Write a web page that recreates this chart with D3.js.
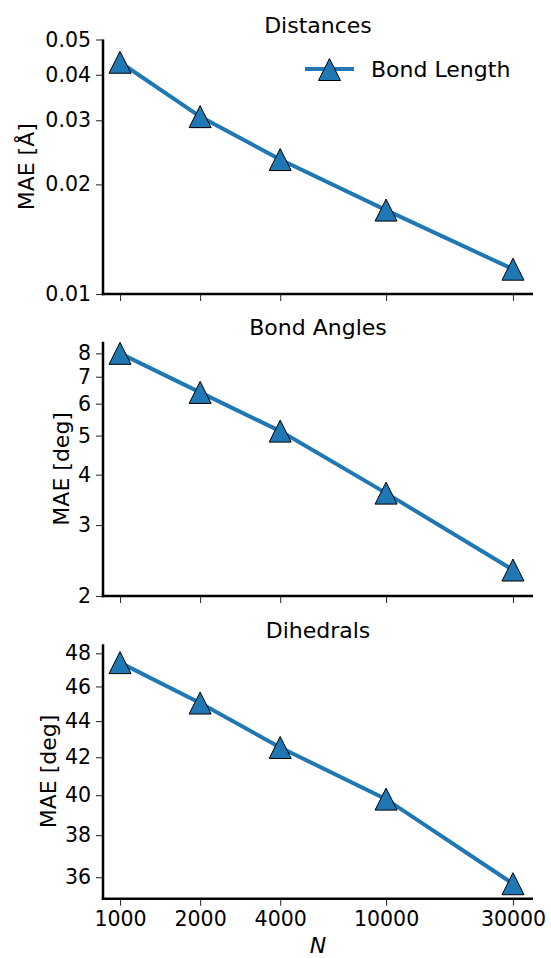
<!DOCTYPE html>
<html>
<head>
<meta charset="utf-8">
<script src="https://cdn.jsdelivr.net/npm/d3@7"></script>
<style>
  body { margin: 0; background: #fff; }
  svg { display: block; font-family: "DejaVu Sans", sans-serif; }
</style>
</head>
<body>
<div id="chart"></div>
<script>
const nValues = [1000, 2000, 4000, 10000, 30000];
const xTicks = [1000, 2000, 4000, 10000, 30000];

const bondLength = [0.0433, 0.0307, 0.0234, 0.0170, 0.0117];
const bondAngle = [8.0, 6.40, 5.13, 3.60, 2.32];
const dihedral = [47.43, 45.03, 42.53, 39.80, 35.70];

const distTicks = [0.01, 0.02, 0.03, 0.04, 0.05];
const angleTicks = [2, 3, 4, 5, 6, 7, 8];
const dihedralTicks = [36, 38, 40, 42, 44, 46, 48];

const titles = ["Distances", "Bond Angles", "Dihedrals"];
const yLabels = ["MAE [Å]", "MAE [deg]", "MAE [deg]"];

const width = 551, height = 958;
const left = 103, right = 533;
const blue = "#1f77b4";

const panels = [
    { title: titles[0], ylab: yLabels[0], values: bondLength, ticks: distTicks,
      domain: [0.01, 0.05], top: 39.5, bottom: 294, labX: 33.5, fmt: d => d.toFixed(2) },
    { title: titles[1], ylab: yLabels[1], values: bondAngle, ticks: angleTicks,
      domain: [2, 8.55], top: 341.7, bottom: 596, labX: 68.5, fmt: d => d },
    { title: titles[2], ylab: yLabels[2], values: dihedral, ticks: dihedralTicks,
      domain: [35.02, 48.56], top: 644.3, bottom: 898.7, labX: 55.5, fmt: d => d }
];

const svg = d3.select("#chart")
    .append("svg")
    .attr("width", width)
    .attr("height", height);

const x = d3.scaleLog().domain([863, 35670]).range([left, right]);

// matplotlib-style "^" marker: isoceles, centred on its bounding box
const tri = "M0,-11L11,11L-11,11Z";

panels.forEach((p, pi) => {
    const y = d3.scaleLog().domain(p.domain).range([p.bottom, p.top]);
    const g = svg.append("g");

    // y axis
    const yAxis = d3.axisLeft(y)
        .tickValues(p.ticks)
        .tickFormat(p.fmt)
        .tickSize(7)
        .tickPadding(5);
    const ya = g.append("g")
        .attr("transform", `translate(${left},0)`)
        .call(yAxis);
    ya.select(".domain").remove();
    ya.selectAll(".tick line").attr("stroke", "#333").attr("stroke-width", 1.1);
    ya.selectAll(".tick text")
        .attr("font-size", "20.5px")
        .attr("fill", "#000")
        .attr("font-family", "DejaVu Sans");

    // x axis
    const xAxis = d3.axisBottom(x)
        .tickValues(xTicks)
        .tickFormat(pi === 2 ? d3.format("d") : "")
        .tickSize(7)
        .tickPadding(6);
    const xa = g.append("g")
        .attr("transform", `translate(0,${p.bottom})`)
        .call(xAxis);
    xa.select(".domain").remove();
    xa.selectAll(".tick line").attr("stroke", "#333").attr("stroke-width", 1.1);
    xa.selectAll(".tick text")
        .attr("font-size", "20.5px")
        .attr("fill", "#000")
        .attr("font-family", "DejaVu Sans");

    // spines
    g.append("line")
        .attr("x1", left).attr("x2", left)
        .attr("y1", p.top).attr("y2", p.bottom + 1.2)
        .attr("stroke", "#000").attr("stroke-width", 2.5);
    g.append("line")
        .attr("x1", left - 1.2).attr("x2", right)
        .attr("y1", p.bottom).attr("y2", p.bottom)
        .attr("stroke", "#000").attr("stroke-width", 2.5);

    // title
    g.append("text")
        .attr("x", (left + right) / 2)
        .attr("y", p.top - 6.5)
        .attr("text-anchor", "middle")
        .attr("font-size", "22px")
        .text(p.title);

    // y label
    g.append("text")
        .attr("transform", `translate(${p.labX},${(p.top + p.bottom) / 2}) rotate(-90)`)
        .attr("text-anchor", "middle")
        .attr("font-size", "22px")
        .text(p.ylab);

    // line + markers
    const pts = nValues.map((n, i) => [n, p.values[i]]);
    g.append("path")
        .datum(pts)
        .attr("fill", "none")
        .attr("stroke", blue)
        .attr("stroke-width", 4)
        .attr("d", d3.line().x(d => x(d[0])).y(d => y(d[1])));

    g.selectAll("path.marker")
        .data(pts)
        .enter()
        .append("path")
        .attr("class", "marker")
        .attr("d", tri)
        .attr("transform", d => `translate(${x(d[0])},${y(d[1])})`)
        .attr("fill", blue)
        .attr("stroke", "#000")
        .attr("stroke-width", 1);
});

// x label
svg.append("text")
    .attr("x", (left + right) / 2)
    .attr("y", 953)
    .attr("text-anchor", "middle")
    .attr("font-size", "22px")
    .attr("font-style", "italic")
    .text("N");

// legend
const legend = svg.append("g");
legend.append("line")
    .attr("x1", 305).attr("x2", 354)
    .attr("y1", 69).attr("y2", 69)
    .attr("stroke", blue).attr("stroke-width", 4);
legend.append("path")
    .attr("d", tri)
    .attr("transform", "translate(329.5,69.5)")
    .attr("fill", blue)
    .attr("stroke", "#000")
    .attr("stroke-width", 1);
legend.append("text")
    .attr("x", 371)
    .attr("y", 77.3)
    .attr("font-size", "22px")
    .text("Bond Length");
</script>
</body>
</html>
